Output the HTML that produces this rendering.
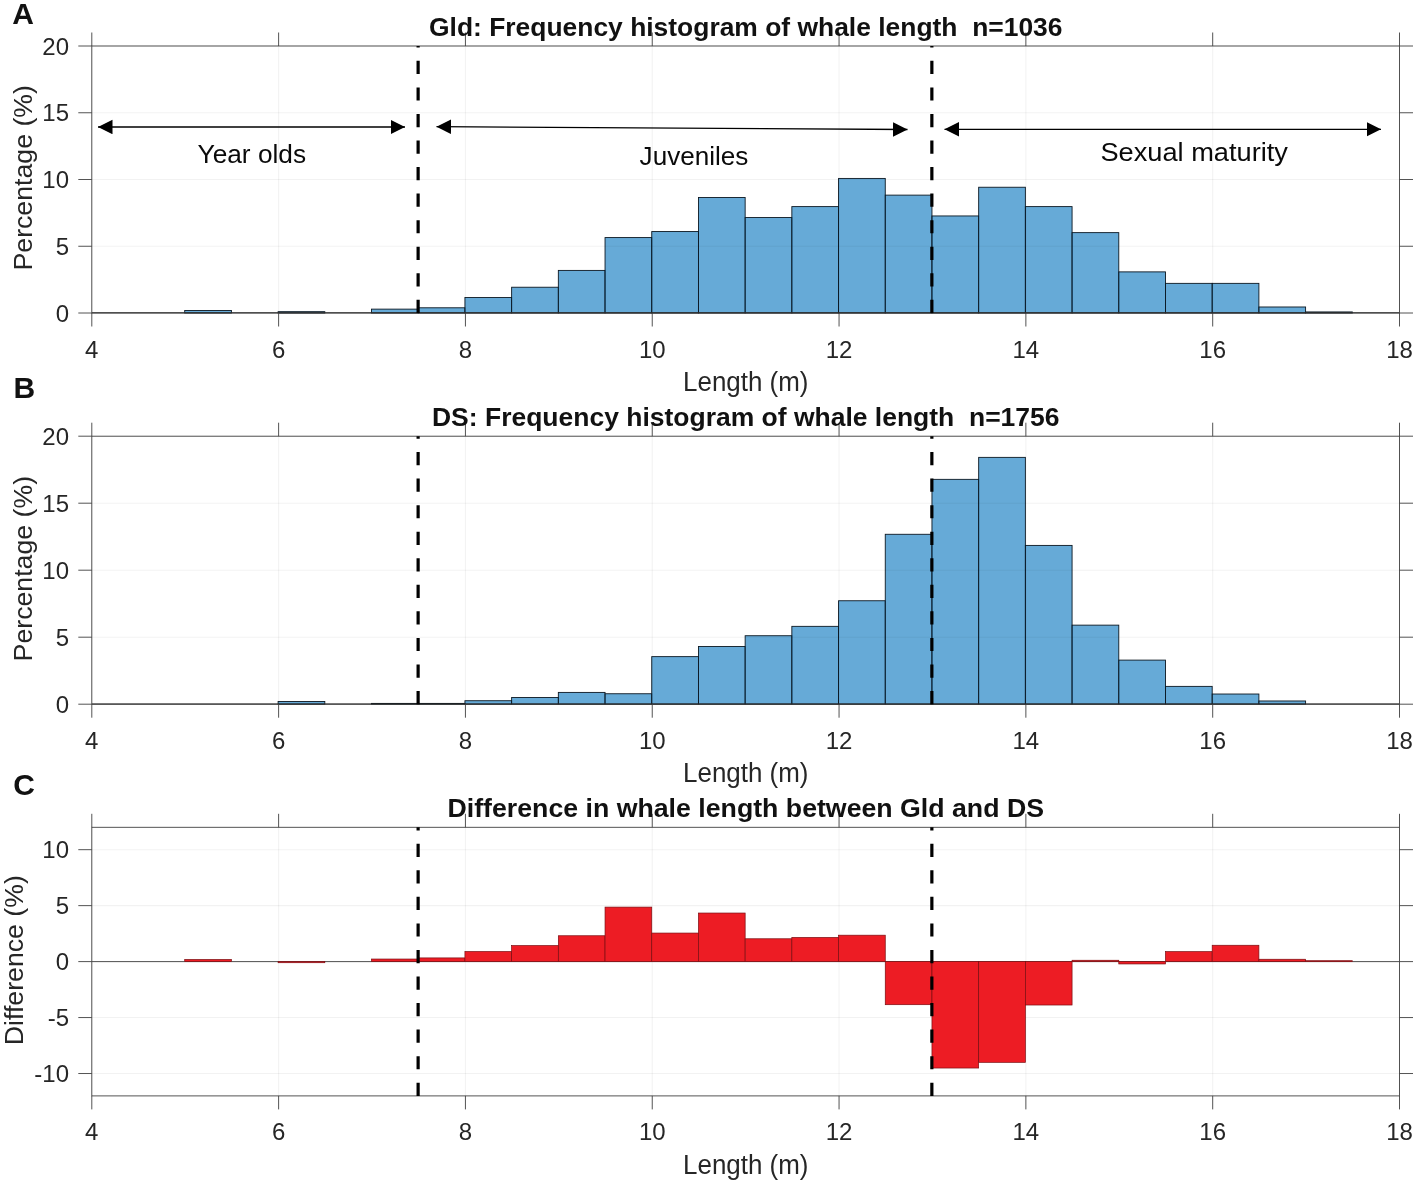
<!DOCTYPE html>
<html lang="en"><head><meta charset="utf-8"><title>Whale length histograms</title>
<style>
html,body{margin:0;padding:0;background:#fff;}
body{width:1417px;height:1180px;overflow:hidden;}
svg{display:block;font-family:"Liberation Sans", Arial, Helvetica, sans-serif;will-change:transform;}
</style></head><body>
<svg width="1417" height="1180" viewBox="0 0 1417 1180">
<rect width="1417" height="1180" fill="#fff"/>
<defs><marker id="ah" markerWidth="15" markerHeight="15" refX="14.5" refY="7.25" orient="auto-start-reverse" markerUnits="userSpaceOnUse"><path d="M0,0 L14.5,7.25 L0,14.5 Z" fill="#000"/></marker></defs>
<rect x="184.71" y="310.46" width="46.70" height="2.54" fill="#0072bd" fill-opacity="0.6" stroke="#0c1822" stroke-width="0.9"/>
<rect x="278.11" y="311.67" width="46.70" height="1.33" fill="#0072bd" fill-opacity="0.6" stroke="#0c1822" stroke-width="0.9"/>
<rect x="371.52" y="309.13" width="46.70" height="3.87" fill="#0072bd" fill-opacity="0.6" stroke="#0c1822" stroke-width="0.9"/>
<rect x="418.23" y="307.79" width="46.70" height="5.21" fill="#0072bd" fill-opacity="0.6" stroke="#0c1822" stroke-width="0.9"/>
<rect x="464.93" y="297.51" width="46.70" height="15.49" fill="#0072bd" fill-opacity="0.6" stroke="#0c1822" stroke-width="0.9"/>
<rect x="511.63" y="287.23" width="46.70" height="25.77" fill="#0072bd" fill-opacity="0.6" stroke="#0c1822" stroke-width="0.9"/>
<rect x="558.34" y="270.41" width="46.70" height="42.59" fill="#0072bd" fill-opacity="0.6" stroke="#0c1822" stroke-width="0.9"/>
<rect x="605.04" y="237.57" width="46.70" height="75.43" fill="#0072bd" fill-opacity="0.6" stroke="#0c1822" stroke-width="0.9"/>
<rect x="651.74" y="231.56" width="46.70" height="81.44" fill="#0072bd" fill-opacity="0.6" stroke="#0c1822" stroke-width="0.9"/>
<rect x="698.45" y="197.52" width="46.70" height="115.48" fill="#0072bd" fill-opacity="0.6" stroke="#0c1822" stroke-width="0.9"/>
<rect x="745.15" y="217.55" width="46.70" height="95.45" fill="#0072bd" fill-opacity="0.6" stroke="#0c1822" stroke-width="0.9"/>
<rect x="791.85" y="206.60" width="46.70" height="106.40" fill="#0072bd" fill-opacity="0.6" stroke="#0c1822" stroke-width="0.9"/>
<rect x="838.56" y="178.43" width="46.70" height="134.57" fill="#0072bd" fill-opacity="0.6" stroke="#0c1822" stroke-width="0.9"/>
<rect x="885.26" y="195.12" width="46.70" height="117.88" fill="#0072bd" fill-opacity="0.6" stroke="#0c1822" stroke-width="0.9"/>
<rect x="931.96" y="215.95" width="46.70" height="97.05" fill="#0072bd" fill-opacity="0.6" stroke="#0c1822" stroke-width="0.9"/>
<rect x="978.67" y="187.24" width="46.70" height="125.76" fill="#0072bd" fill-opacity="0.6" stroke="#0c1822" stroke-width="0.9"/>
<rect x="1025.37" y="206.60" width="46.70" height="106.40" fill="#0072bd" fill-opacity="0.6" stroke="#0c1822" stroke-width="0.9"/>
<rect x="1072.08" y="232.63" width="46.70" height="80.37" fill="#0072bd" fill-opacity="0.6" stroke="#0c1822" stroke-width="0.9"/>
<rect x="1118.78" y="271.88" width="46.70" height="41.12" fill="#0072bd" fill-opacity="0.6" stroke="#0c1822" stroke-width="0.9"/>
<rect x="1165.48" y="283.36" width="46.70" height="29.64" fill="#0072bd" fill-opacity="0.6" stroke="#0c1822" stroke-width="0.9"/>
<rect x="1212.19" y="283.36" width="46.70" height="29.64" fill="#0072bd" fill-opacity="0.6" stroke="#0c1822" stroke-width="0.9"/>
<rect x="1258.89" y="306.99" width="46.70" height="6.01" fill="#0072bd" fill-opacity="0.6" stroke="#0c1822" stroke-width="0.9"/>
<rect x="1305.59" y="311.93" width="46.70" height="1.07" fill="#0072bd" fill-opacity="0.6" stroke="#0c1822" stroke-width="0.9"/>
<line x1="91.80" y1="46" x2="91.80" y2="313" stroke="#000" stroke-opacity="0.05" stroke-width="1.1"/>
<line x1="278.61" y1="46" x2="278.61" y2="313" stroke="#000" stroke-opacity="0.05" stroke-width="1.1"/>
<line x1="465.43" y1="46" x2="465.43" y2="313" stroke="#000" stroke-opacity="0.05" stroke-width="1.1"/>
<line x1="652.24" y1="46" x2="652.24" y2="313" stroke="#000" stroke-opacity="0.05" stroke-width="1.1"/>
<line x1="839.06" y1="46" x2="839.06" y2="313" stroke="#000" stroke-opacity="0.05" stroke-width="1.1"/>
<line x1="1025.87" y1="46" x2="1025.87" y2="313" stroke="#000" stroke-opacity="0.05" stroke-width="1.1"/>
<line x1="1212.69" y1="46" x2="1212.69" y2="313" stroke="#000" stroke-opacity="0.05" stroke-width="1.1"/>
<line x1="1399.50" y1="46" x2="1399.50" y2="313" stroke="#000" stroke-opacity="0.05" stroke-width="1.1"/>
<line x1="91.8" y1="313.00" x2="1399.5" y2="313.00" stroke="#000" stroke-opacity="0.05" stroke-width="1.1"/>
<line x1="91.8" y1="246.25" x2="1399.5" y2="246.25" stroke="#000" stroke-opacity="0.05" stroke-width="1.1"/>
<line x1="91.8" y1="179.50" x2="1399.5" y2="179.50" stroke="#000" stroke-opacity="0.05" stroke-width="1.1"/>
<line x1="91.8" y1="112.75" x2="1399.5" y2="112.75" stroke="#000" stroke-opacity="0.05" stroke-width="1.1"/>
<line x1="91.8" y1="46.00" x2="1399.5" y2="46.00" stroke="#000" stroke-opacity="0.05" stroke-width="1.1"/>
<line x1="91.8" y1="312.8" x2="1399.5" y2="312.8" stroke="#1a1a1a" stroke-width="1"/>
<rect x="91.8" y="46" width="1307.7" height="267" fill="none" stroke="#404040" stroke-width="0.9"/>
<line x1="91.80" y1="313" x2="91.80" y2="326.5" stroke="#404040" stroke-width="0.9"/>
<line x1="91.80" y1="46" x2="91.80" y2="32.5" stroke="#404040" stroke-width="0.9"/>
<text x="91.80" y="357.6" font-size="24" text-anchor="middle" fill="#262626">4</text>
<line x1="278.61" y1="313" x2="278.61" y2="326.5" stroke="#404040" stroke-width="0.9"/>
<line x1="278.61" y1="46" x2="278.61" y2="32.5" stroke="#404040" stroke-width="0.9"/>
<text x="278.61" y="357.6" font-size="24" text-anchor="middle" fill="#262626">6</text>
<line x1="465.43" y1="313" x2="465.43" y2="326.5" stroke="#404040" stroke-width="0.9"/>
<line x1="465.43" y1="46" x2="465.43" y2="32.5" stroke="#404040" stroke-width="0.9"/>
<text x="465.43" y="357.6" font-size="24" text-anchor="middle" fill="#262626">8</text>
<line x1="652.24" y1="313" x2="652.24" y2="326.5" stroke="#404040" stroke-width="0.9"/>
<line x1="652.24" y1="46" x2="652.24" y2="32.5" stroke="#404040" stroke-width="0.9"/>
<text x="652.24" y="357.6" font-size="24" text-anchor="middle" fill="#262626">10</text>
<line x1="839.06" y1="313" x2="839.06" y2="326.5" stroke="#404040" stroke-width="0.9"/>
<line x1="839.06" y1="46" x2="839.06" y2="32.5" stroke="#404040" stroke-width="0.9"/>
<text x="839.06" y="357.6" font-size="24" text-anchor="middle" fill="#262626">12</text>
<line x1="1025.87" y1="313" x2="1025.87" y2="326.5" stroke="#404040" stroke-width="0.9"/>
<line x1="1025.87" y1="46" x2="1025.87" y2="32.5" stroke="#404040" stroke-width="0.9"/>
<text x="1025.87" y="357.6" font-size="24" text-anchor="middle" fill="#262626">14</text>
<line x1="1212.69" y1="313" x2="1212.69" y2="326.5" stroke="#404040" stroke-width="0.9"/>
<line x1="1212.69" y1="46" x2="1212.69" y2="32.5" stroke="#404040" stroke-width="0.9"/>
<text x="1212.69" y="357.6" font-size="24" text-anchor="middle" fill="#262626">16</text>
<line x1="1399.50" y1="313" x2="1399.50" y2="326.5" stroke="#404040" stroke-width="0.9"/>
<line x1="1399.50" y1="46" x2="1399.50" y2="32.5" stroke="#404040" stroke-width="0.9"/>
<text x="1399.50" y="357.6" font-size="24" text-anchor="middle" fill="#262626">18</text>
<line x1="78.3" y1="313.00" x2="91.8" y2="313.00" stroke="#404040" stroke-width="0.9"/>
<line x1="1399.5" y1="313.00" x2="1413.0" y2="313.00" stroke="#404040" stroke-width="0.9"/>
<text x="69" y="321.60" font-size="24" text-anchor="end" fill="#262626">0</text>
<line x1="78.3" y1="246.25" x2="91.8" y2="246.25" stroke="#404040" stroke-width="0.9"/>
<line x1="1399.5" y1="246.25" x2="1413.0" y2="246.25" stroke="#404040" stroke-width="0.9"/>
<text x="69" y="254.85" font-size="24" text-anchor="end" fill="#262626">5</text>
<line x1="78.3" y1="179.50" x2="91.8" y2="179.50" stroke="#404040" stroke-width="0.9"/>
<line x1="1399.5" y1="179.50" x2="1413.0" y2="179.50" stroke="#404040" stroke-width="0.9"/>
<text x="69" y="188.10" font-size="24" text-anchor="end" fill="#262626">10</text>
<line x1="78.3" y1="112.75" x2="91.8" y2="112.75" stroke="#404040" stroke-width="0.9"/>
<line x1="1399.5" y1="112.75" x2="1413.0" y2="112.75" stroke="#404040" stroke-width="0.9"/>
<text x="69" y="121.35" font-size="24" text-anchor="end" fill="#262626">15</text>
<line x1="78.3" y1="46.00" x2="91.8" y2="46.00" stroke="#404040" stroke-width="0.9"/>
<line x1="1399.5" y1="46.00" x2="1413.0" y2="46.00" stroke="#404040" stroke-width="0.9"/>
<text x="69" y="54.60" font-size="24" text-anchor="end" fill="#262626">20</text>
<line x1="418.12" y1="313" x2="418.12" y2="46" stroke="#000" stroke-width="3.2" stroke-dasharray="13.2 13.35"/>
<line x1="931.86" y1="313" x2="931.86" y2="46" stroke="#000" stroke-width="3.2" stroke-dasharray="13.2 13.35"/>
<text x="745.75" y="35.6" font-size="26.6" font-weight="bold" textLength="633.5" lengthAdjust="spacingAndGlyphs" text-anchor="middle" fill="#111" xml:space="preserve">Gld: Frequency histogram of whale length  n=1036</text>
<text x="745.75" y="390.5" font-size="27" textLength="125.3" lengthAdjust="spacingAndGlyphs" text-anchor="middle" fill="#262626">Length (m)</text>
<text transform="translate(32.2 177.8) rotate(-90)" font-size="26.7" text-anchor="middle" fill="#262626">Percentage (%)</text>
<text x="12.2" y="24.2" font-size="30" font-weight="bold" fill="#111">A</text>
<rect x="278.11" y="701.52" width="46.70" height="2.68" fill="#0072bd" fill-opacity="0.6" stroke="#0c1822" stroke-width="0.9"/>
<rect x="371.52" y="703.40" width="46.70" height="0.80" fill="#0072bd" fill-opacity="0.6" stroke="#0c1822" stroke-width="0.9"/>
<rect x="418.23" y="703.40" width="46.70" height="0.80" fill="#0072bd" fill-opacity="0.6" stroke="#0c1822" stroke-width="0.9"/>
<rect x="464.93" y="700.72" width="46.70" height="3.48" fill="#0072bd" fill-opacity="0.6" stroke="#0c1822" stroke-width="0.9"/>
<rect x="511.63" y="697.50" width="46.70" height="6.70" fill="#0072bd" fill-opacity="0.6" stroke="#0c1822" stroke-width="0.9"/>
<rect x="558.34" y="692.41" width="46.70" height="11.79" fill="#0072bd" fill-opacity="0.6" stroke="#0c1822" stroke-width="0.9"/>
<rect x="605.04" y="693.75" width="46.70" height="10.45" fill="#0072bd" fill-opacity="0.6" stroke="#0c1822" stroke-width="0.9"/>
<rect x="651.74" y="656.63" width="46.70" height="47.57" fill="#0072bd" fill-opacity="0.6" stroke="#0c1822" stroke-width="0.9"/>
<rect x="698.45" y="646.45" width="46.70" height="57.75" fill="#0072bd" fill-opacity="0.6" stroke="#0c1822" stroke-width="0.9"/>
<rect x="745.15" y="635.73" width="46.70" height="68.47" fill="#0072bd" fill-opacity="0.6" stroke="#0c1822" stroke-width="0.9"/>
<rect x="791.85" y="626.35" width="46.70" height="77.85" fill="#0072bd" fill-opacity="0.6" stroke="#0c1822" stroke-width="0.9"/>
<rect x="838.56" y="600.75" width="46.70" height="103.45" fill="#0072bd" fill-opacity="0.6" stroke="#0c1822" stroke-width="0.9"/>
<rect x="885.26" y="534.29" width="46.70" height="169.91" fill="#0072bd" fill-opacity="0.6" stroke="#0c1822" stroke-width="0.9"/>
<rect x="931.96" y="479.35" width="46.70" height="224.85" fill="#0072bd" fill-opacity="0.6" stroke="#0c1822" stroke-width="0.9"/>
<rect x="978.67" y="457.37" width="46.70" height="246.83" fill="#0072bd" fill-opacity="0.6" stroke="#0c1822" stroke-width="0.9"/>
<rect x="1025.37" y="545.41" width="46.70" height="158.79" fill="#0072bd" fill-opacity="0.6" stroke="#0c1822" stroke-width="0.9"/>
<rect x="1072.08" y="625.14" width="46.70" height="79.06" fill="#0072bd" fill-opacity="0.6" stroke="#0c1822" stroke-width="0.9"/>
<rect x="1118.78" y="660.11" width="46.70" height="44.09" fill="#0072bd" fill-opacity="0.6" stroke="#0c1822" stroke-width="0.9"/>
<rect x="1165.48" y="686.38" width="46.70" height="17.82" fill="#0072bd" fill-opacity="0.6" stroke="#0c1822" stroke-width="0.9"/>
<rect x="1212.19" y="694.02" width="46.70" height="10.18" fill="#0072bd" fill-opacity="0.6" stroke="#0c1822" stroke-width="0.9"/>
<rect x="1258.89" y="700.98" width="46.70" height="3.22" fill="#0072bd" fill-opacity="0.6" stroke="#0c1822" stroke-width="0.9"/>
<line x1="91.80" y1="436.2" x2="91.80" y2="704.2" stroke="#000" stroke-opacity="0.05" stroke-width="1.1"/>
<line x1="278.61" y1="436.2" x2="278.61" y2="704.2" stroke="#000" stroke-opacity="0.05" stroke-width="1.1"/>
<line x1="465.43" y1="436.2" x2="465.43" y2="704.2" stroke="#000" stroke-opacity="0.05" stroke-width="1.1"/>
<line x1="652.24" y1="436.2" x2="652.24" y2="704.2" stroke="#000" stroke-opacity="0.05" stroke-width="1.1"/>
<line x1="839.06" y1="436.2" x2="839.06" y2="704.2" stroke="#000" stroke-opacity="0.05" stroke-width="1.1"/>
<line x1="1025.87" y1="436.2" x2="1025.87" y2="704.2" stroke="#000" stroke-opacity="0.05" stroke-width="1.1"/>
<line x1="1212.69" y1="436.2" x2="1212.69" y2="704.2" stroke="#000" stroke-opacity="0.05" stroke-width="1.1"/>
<line x1="1399.50" y1="436.2" x2="1399.50" y2="704.2" stroke="#000" stroke-opacity="0.05" stroke-width="1.1"/>
<line x1="91.8" y1="704.20" x2="1399.5" y2="704.20" stroke="#000" stroke-opacity="0.05" stroke-width="1.1"/>
<line x1="91.8" y1="637.20" x2="1399.5" y2="637.20" stroke="#000" stroke-opacity="0.05" stroke-width="1.1"/>
<line x1="91.8" y1="570.20" x2="1399.5" y2="570.20" stroke="#000" stroke-opacity="0.05" stroke-width="1.1"/>
<line x1="91.8" y1="503.20" x2="1399.5" y2="503.20" stroke="#000" stroke-opacity="0.05" stroke-width="1.1"/>
<line x1="91.8" y1="436.20" x2="1399.5" y2="436.20" stroke="#000" stroke-opacity="0.05" stroke-width="1.1"/>
<line x1="91.8" y1="704.0" x2="1399.5" y2="704.0" stroke="#1a1a1a" stroke-width="1"/>
<rect x="91.8" y="436.2" width="1307.7" height="268.00000000000006" fill="none" stroke="#404040" stroke-width="0.9"/>
<line x1="91.80" y1="704.2" x2="91.80" y2="717.7" stroke="#404040" stroke-width="0.9"/>
<line x1="91.80" y1="436.2" x2="91.80" y2="422.7" stroke="#404040" stroke-width="0.9"/>
<text x="91.80" y="748.5" font-size="24" text-anchor="middle" fill="#262626">4</text>
<line x1="278.61" y1="704.2" x2="278.61" y2="717.7" stroke="#404040" stroke-width="0.9"/>
<line x1="278.61" y1="436.2" x2="278.61" y2="422.7" stroke="#404040" stroke-width="0.9"/>
<text x="278.61" y="748.5" font-size="24" text-anchor="middle" fill="#262626">6</text>
<line x1="465.43" y1="704.2" x2="465.43" y2="717.7" stroke="#404040" stroke-width="0.9"/>
<line x1="465.43" y1="436.2" x2="465.43" y2="422.7" stroke="#404040" stroke-width="0.9"/>
<text x="465.43" y="748.5" font-size="24" text-anchor="middle" fill="#262626">8</text>
<line x1="652.24" y1="704.2" x2="652.24" y2="717.7" stroke="#404040" stroke-width="0.9"/>
<line x1="652.24" y1="436.2" x2="652.24" y2="422.7" stroke="#404040" stroke-width="0.9"/>
<text x="652.24" y="748.5" font-size="24" text-anchor="middle" fill="#262626">10</text>
<line x1="839.06" y1="704.2" x2="839.06" y2="717.7" stroke="#404040" stroke-width="0.9"/>
<line x1="839.06" y1="436.2" x2="839.06" y2="422.7" stroke="#404040" stroke-width="0.9"/>
<text x="839.06" y="748.5" font-size="24" text-anchor="middle" fill="#262626">12</text>
<line x1="1025.87" y1="704.2" x2="1025.87" y2="717.7" stroke="#404040" stroke-width="0.9"/>
<line x1="1025.87" y1="436.2" x2="1025.87" y2="422.7" stroke="#404040" stroke-width="0.9"/>
<text x="1025.87" y="748.5" font-size="24" text-anchor="middle" fill="#262626">14</text>
<line x1="1212.69" y1="704.2" x2="1212.69" y2="717.7" stroke="#404040" stroke-width="0.9"/>
<line x1="1212.69" y1="436.2" x2="1212.69" y2="422.7" stroke="#404040" stroke-width="0.9"/>
<text x="1212.69" y="748.5" font-size="24" text-anchor="middle" fill="#262626">16</text>
<line x1="1399.50" y1="704.2" x2="1399.50" y2="717.7" stroke="#404040" stroke-width="0.9"/>
<line x1="1399.50" y1="436.2" x2="1399.50" y2="422.7" stroke="#404040" stroke-width="0.9"/>
<text x="1399.50" y="748.5" font-size="24" text-anchor="middle" fill="#262626">18</text>
<line x1="78.3" y1="704.20" x2="91.8" y2="704.20" stroke="#404040" stroke-width="0.9"/>
<line x1="1399.5" y1="704.20" x2="1413.0" y2="704.20" stroke="#404040" stroke-width="0.9"/>
<text x="69" y="712.80" font-size="24" text-anchor="end" fill="#262626">0</text>
<line x1="78.3" y1="637.20" x2="91.8" y2="637.20" stroke="#404040" stroke-width="0.9"/>
<line x1="1399.5" y1="637.20" x2="1413.0" y2="637.20" stroke="#404040" stroke-width="0.9"/>
<text x="69" y="645.80" font-size="24" text-anchor="end" fill="#262626">5</text>
<line x1="78.3" y1="570.20" x2="91.8" y2="570.20" stroke="#404040" stroke-width="0.9"/>
<line x1="1399.5" y1="570.20" x2="1413.0" y2="570.20" stroke="#404040" stroke-width="0.9"/>
<text x="69" y="578.80" font-size="24" text-anchor="end" fill="#262626">10</text>
<line x1="78.3" y1="503.20" x2="91.8" y2="503.20" stroke="#404040" stroke-width="0.9"/>
<line x1="1399.5" y1="503.20" x2="1413.0" y2="503.20" stroke="#404040" stroke-width="0.9"/>
<text x="69" y="511.80" font-size="24" text-anchor="end" fill="#262626">15</text>
<line x1="78.3" y1="436.20" x2="91.8" y2="436.20" stroke="#404040" stroke-width="0.9"/>
<line x1="1399.5" y1="436.20" x2="1413.0" y2="436.20" stroke="#404040" stroke-width="0.9"/>
<text x="69" y="444.80" font-size="24" text-anchor="end" fill="#262626">20</text>
<line x1="418.12" y1="704.2" x2="418.12" y2="436.2" stroke="#000" stroke-width="3.2" stroke-dasharray="13.2 13.35"/>
<line x1="931.86" y1="704.2" x2="931.86" y2="436.2" stroke="#000" stroke-width="3.2" stroke-dasharray="13.2 13.35"/>
<text x="745.75" y="425.9" font-size="26.6" font-weight="bold" textLength="627.5" lengthAdjust="spacingAndGlyphs" text-anchor="middle" fill="#111" xml:space="preserve">DS: Frequency histogram of whale length  n=1756</text>
<text x="745.75" y="782.3" font-size="27" textLength="125.3" lengthAdjust="spacingAndGlyphs" text-anchor="middle" fill="#262626">Length (m)</text>
<text transform="translate(32.2 568.7) rotate(-90)" font-size="26.7" text-anchor="middle" fill="#262626">Percentage (%)</text>
<text x="13.6" y="397.7" font-size="30" font-weight="bold" fill="#111">B</text>
<line x1="91.80" y1="827.3" x2="91.80" y2="1095.9" stroke="#000" stroke-opacity="0.05" stroke-width="1.1"/>
<line x1="278.61" y1="827.3" x2="278.61" y2="1095.9" stroke="#000" stroke-opacity="0.05" stroke-width="1.1"/>
<line x1="465.43" y1="827.3" x2="465.43" y2="1095.9" stroke="#000" stroke-opacity="0.05" stroke-width="1.1"/>
<line x1="652.24" y1="827.3" x2="652.24" y2="1095.9" stroke="#000" stroke-opacity="0.05" stroke-width="1.1"/>
<line x1="839.06" y1="827.3" x2="839.06" y2="1095.9" stroke="#000" stroke-opacity="0.05" stroke-width="1.1"/>
<line x1="1025.87" y1="827.3" x2="1025.87" y2="1095.9" stroke="#000" stroke-opacity="0.05" stroke-width="1.1"/>
<line x1="1212.69" y1="827.3" x2="1212.69" y2="1095.9" stroke="#000" stroke-opacity="0.05" stroke-width="1.1"/>
<line x1="1399.50" y1="827.3" x2="1399.50" y2="1095.9" stroke="#000" stroke-opacity="0.05" stroke-width="1.1"/>
<line x1="91.8" y1="1073.52" x2="1399.5" y2="1073.52" stroke="#000" stroke-opacity="0.05" stroke-width="1.1"/>
<line x1="91.8" y1="1017.56" x2="1399.5" y2="1017.56" stroke="#000" stroke-opacity="0.05" stroke-width="1.1"/>
<line x1="91.8" y1="961.60" x2="1399.5" y2="961.60" stroke="#000" stroke-opacity="0.05" stroke-width="1.1"/>
<line x1="91.8" y1="905.64" x2="1399.5" y2="905.64" stroke="#000" stroke-opacity="0.05" stroke-width="1.1"/>
<line x1="91.8" y1="849.68" x2="1399.5" y2="849.68" stroke="#000" stroke-opacity="0.05" stroke-width="1.1"/>
<line x1="91.8" y1="961.60" x2="1399.5" y2="961.60" stroke="#404040" stroke-width="0.9"/>
<rect x="184.71" y="959.47" width="46.70" height="2.13" fill="#ed1c24" fill-opacity="1" stroke="#7a0c10" stroke-width="0.7"/>
<rect x="278.11" y="961.60" width="46.70" height="1.12" fill="#ed1c24" fill-opacity="1" stroke="#7a0c10" stroke-width="0.7"/>
<rect x="371.52" y="959.03" width="46.70" height="2.57" fill="#ed1c24" fill-opacity="1" stroke="#7a0c10" stroke-width="0.7"/>
<rect x="418.23" y="957.91" width="46.70" height="3.69" fill="#ed1c24" fill-opacity="1" stroke="#7a0c10" stroke-width="0.7"/>
<rect x="464.93" y="951.53" width="46.70" height="10.07" fill="#ed1c24" fill-opacity="1" stroke="#7a0c10" stroke-width="0.7"/>
<rect x="511.63" y="945.60" width="46.70" height="16.00" fill="#ed1c24" fill-opacity="1" stroke="#7a0c10" stroke-width="0.7"/>
<rect x="558.34" y="935.75" width="46.70" height="25.85" fill="#ed1c24" fill-opacity="1" stroke="#7a0c10" stroke-width="0.7"/>
<rect x="605.04" y="907.10" width="46.70" height="54.50" fill="#ed1c24" fill-opacity="1" stroke="#7a0c10" stroke-width="0.7"/>
<rect x="651.74" y="933.06" width="46.70" height="28.54" fill="#ed1c24" fill-opacity="1" stroke="#7a0c10" stroke-width="0.7"/>
<rect x="698.45" y="913.03" width="46.70" height="48.57" fill="#ed1c24" fill-opacity="1" stroke="#7a0c10" stroke-width="0.7"/>
<rect x="745.15" y="938.77" width="46.70" height="22.83" fill="#ed1c24" fill-opacity="1" stroke="#7a0c10" stroke-width="0.7"/>
<rect x="791.85" y="937.43" width="46.70" height="24.17" fill="#ed1c24" fill-opacity="1" stroke="#7a0c10" stroke-width="0.7"/>
<rect x="838.56" y="935.19" width="46.70" height="26.41" fill="#ed1c24" fill-opacity="1" stroke="#7a0c10" stroke-width="0.7"/>
<rect x="885.26" y="961.60" width="46.70" height="43.09" fill="#ed1c24" fill-opacity="1" stroke="#7a0c10" stroke-width="0.7"/>
<rect x="931.96" y="961.60" width="46.70" height="106.43" fill="#ed1c24" fill-opacity="1" stroke="#7a0c10" stroke-width="0.7"/>
<rect x="978.67" y="961.60" width="46.70" height="100.73" fill="#ed1c24" fill-opacity="1" stroke="#7a0c10" stroke-width="0.7"/>
<rect x="1025.37" y="961.60" width="46.70" height="43.42" fill="#ed1c24" fill-opacity="1" stroke="#7a0c10" stroke-width="0.7"/>
<rect x="1072.08" y="960.26" width="46.70" height="1.34" fill="#ed1c24" fill-opacity="1" stroke="#7a0c10" stroke-width="0.7"/>
<rect x="1118.78" y="961.60" width="46.70" height="2.35" fill="#ed1c24" fill-opacity="1" stroke="#7a0c10" stroke-width="0.7"/>
<rect x="1165.48" y="951.64" width="46.70" height="9.96" fill="#ed1c24" fill-opacity="1" stroke="#7a0c10" stroke-width="0.7"/>
<rect x="1212.19" y="945.26" width="46.70" height="16.34" fill="#ed1c24" fill-opacity="1" stroke="#7a0c10" stroke-width="0.7"/>
<rect x="1258.89" y="959.25" width="46.70" height="2.35" fill="#ed1c24" fill-opacity="1" stroke="#7a0c10" stroke-width="0.7"/>
<rect x="1305.59" y="960.70" width="46.70" height="0.90" fill="#ed1c24" fill-opacity="1" stroke="#7a0c10" stroke-width="0.7"/>
<rect x="91.8" y="827.3" width="1307.7" height="268.60000000000014" fill="none" stroke="#404040" stroke-width="0.9"/>
<line x1="91.80" y1="1095.9" x2="91.80" y2="1109.4" stroke="#404040" stroke-width="0.9"/>
<line x1="91.80" y1="827.3" x2="91.80" y2="813.8" stroke="#404040" stroke-width="0.9"/>
<text x="91.80" y="1140" font-size="24" text-anchor="middle" fill="#262626">4</text>
<line x1="278.61" y1="1095.9" x2="278.61" y2="1109.4" stroke="#404040" stroke-width="0.9"/>
<line x1="278.61" y1="827.3" x2="278.61" y2="813.8" stroke="#404040" stroke-width="0.9"/>
<text x="278.61" y="1140" font-size="24" text-anchor="middle" fill="#262626">6</text>
<line x1="465.43" y1="1095.9" x2="465.43" y2="1109.4" stroke="#404040" stroke-width="0.9"/>
<line x1="465.43" y1="827.3" x2="465.43" y2="813.8" stroke="#404040" stroke-width="0.9"/>
<text x="465.43" y="1140" font-size="24" text-anchor="middle" fill="#262626">8</text>
<line x1="652.24" y1="1095.9" x2="652.24" y2="1109.4" stroke="#404040" stroke-width="0.9"/>
<line x1="652.24" y1="827.3" x2="652.24" y2="813.8" stroke="#404040" stroke-width="0.9"/>
<text x="652.24" y="1140" font-size="24" text-anchor="middle" fill="#262626">10</text>
<line x1="839.06" y1="1095.9" x2="839.06" y2="1109.4" stroke="#404040" stroke-width="0.9"/>
<line x1="839.06" y1="827.3" x2="839.06" y2="813.8" stroke="#404040" stroke-width="0.9"/>
<text x="839.06" y="1140" font-size="24" text-anchor="middle" fill="#262626">12</text>
<line x1="1025.87" y1="1095.9" x2="1025.87" y2="1109.4" stroke="#404040" stroke-width="0.9"/>
<line x1="1025.87" y1="827.3" x2="1025.87" y2="813.8" stroke="#404040" stroke-width="0.9"/>
<text x="1025.87" y="1140" font-size="24" text-anchor="middle" fill="#262626">14</text>
<line x1="1212.69" y1="1095.9" x2="1212.69" y2="1109.4" stroke="#404040" stroke-width="0.9"/>
<line x1="1212.69" y1="827.3" x2="1212.69" y2="813.8" stroke="#404040" stroke-width="0.9"/>
<text x="1212.69" y="1140" font-size="24" text-anchor="middle" fill="#262626">16</text>
<line x1="1399.50" y1="1095.9" x2="1399.50" y2="1109.4" stroke="#404040" stroke-width="0.9"/>
<line x1="1399.50" y1="827.3" x2="1399.50" y2="813.8" stroke="#404040" stroke-width="0.9"/>
<text x="1399.50" y="1140" font-size="24" text-anchor="middle" fill="#262626">18</text>
<line x1="78.3" y1="1073.52" x2="91.8" y2="1073.52" stroke="#404040" stroke-width="0.9"/>
<line x1="1399.5" y1="1073.52" x2="1413.0" y2="1073.52" stroke="#404040" stroke-width="0.9"/>
<text x="69" y="1082.12" font-size="24" text-anchor="end" fill="#262626">-10</text>
<line x1="78.3" y1="1017.56" x2="91.8" y2="1017.56" stroke="#404040" stroke-width="0.9"/>
<line x1="1399.5" y1="1017.56" x2="1413.0" y2="1017.56" stroke="#404040" stroke-width="0.9"/>
<text x="69" y="1026.16" font-size="24" text-anchor="end" fill="#262626">-5</text>
<line x1="78.3" y1="961.60" x2="91.8" y2="961.60" stroke="#404040" stroke-width="0.9"/>
<line x1="1399.5" y1="961.60" x2="1413.0" y2="961.60" stroke="#404040" stroke-width="0.9"/>
<text x="69" y="970.20" font-size="24" text-anchor="end" fill="#262626">0</text>
<line x1="78.3" y1="905.64" x2="91.8" y2="905.64" stroke="#404040" stroke-width="0.9"/>
<line x1="1399.5" y1="905.64" x2="1413.0" y2="905.64" stroke="#404040" stroke-width="0.9"/>
<text x="69" y="914.24" font-size="24" text-anchor="end" fill="#262626">5</text>
<line x1="78.3" y1="849.68" x2="91.8" y2="849.68" stroke="#404040" stroke-width="0.9"/>
<line x1="1399.5" y1="849.68" x2="1413.0" y2="849.68" stroke="#404040" stroke-width="0.9"/>
<text x="69" y="858.28" font-size="24" text-anchor="end" fill="#262626">10</text>
<line x1="418.12" y1="1095.9" x2="418.12" y2="827.3" stroke="#000" stroke-width="3.2" stroke-dasharray="13.2 13.35"/>
<line x1="931.86" y1="1095.9" x2="931.86" y2="827.3" stroke="#000" stroke-width="3.2" stroke-dasharray="13.2 13.35"/>
<text x="745.75" y="816.9" font-size="26.6" font-weight="bold" textLength="596.5" lengthAdjust="spacingAndGlyphs" text-anchor="middle" fill="#111" xml:space="preserve">Difference in whale length between Gld and DS</text>
<text x="745.75" y="1173.6" font-size="27" textLength="125.3" lengthAdjust="spacingAndGlyphs" text-anchor="middle" fill="#262626">Length (m)</text>
<text transform="translate(23.0 960.2) rotate(-90)" font-size="26.7" text-anchor="middle" fill="#262626">Difference (%)</text>
<text x="13.2" y="795.0" font-size="30" font-weight="bold" fill="#111">C</text>
<line x1="98" y1="127" x2="405" y2="127" stroke="#000" stroke-width="1.3" marker-start="url(#ah)" marker-end="url(#ah)"/>
<line x1="436.5" y1="126.7" x2="907.5" y2="129.5" stroke="#000" stroke-width="1.3" marker-start="url(#ah)" marker-end="url(#ah)"/>
<line x1="944.5" y1="129.3" x2="1381" y2="129.3" stroke="#000" stroke-width="1.3" marker-start="url(#ah)" marker-end="url(#ah)"/>
<text x="251.8" y="162.8" font-size="26.5" textLength="108.5" lengthAdjust="spacingAndGlyphs" text-anchor="middle" fill="#0a0a0a">Year olds</text>
<text x="694.0" y="164.9" font-size="26.5" textLength="108.8" lengthAdjust="spacingAndGlyphs" text-anchor="middle" fill="#0a0a0a">Juveniles</text>
<text x="1194.2" y="161.3" font-size="26.5" textLength="187.5" lengthAdjust="spacingAndGlyphs" text-anchor="middle" fill="#0a0a0a">Sexual maturity</text>
</svg></body></html>
